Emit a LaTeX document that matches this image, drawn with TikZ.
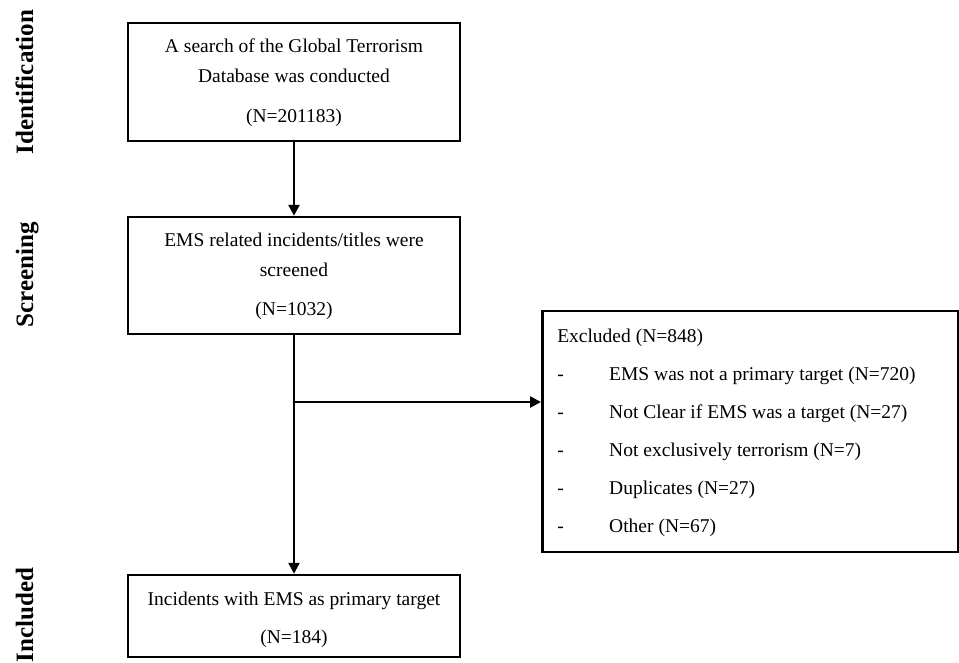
\documentclass[tikz,border=0pt]{standalone}
\usepackage{fontspec}
\setmainfont{Liberation Serif}
\usetikzlibrary{arrows.meta}
\begin{document}
\begin{tikzpicture}[x=1pt,y=-1pt,
  box/.style={draw,line width=2.5pt,align=center,inner sep=0pt,
    minimum width=332pt,font=\fontsize{19.5}{30}\selectfont},
  exbox/.style={draw,line width=2.5pt,align=flush left,inner xsep=15pt,inner ysep=0pt,
    text width=386pt,minimum height=241pt,font=\fontsize{19.5}{38}\selectfont},
  side/.style={rotate=90,anchor=base,font=\fontsize{25}{30}\selectfont\bfseries},
  arr/.style={line width=2.5pt,-{Triangle[length=11pt,width=11pt]}}]
\useasboundingbox (0,0) rectangle (959,662);
\node[side] (lid) at (33,82) {Identification};
\node[side] (lsc) at (33,275) {Screening};
\node[side] (lin) at (33,615) {Included};
\node[box,minimum height=118pt] (b1) at (294,82)
  {\rule{0pt}{15.5pt}A search of the Global Terrorism\\ Database was conducted\\[10pt] (N=201183)};
\node[box,minimum height=117pt] (b2) at (294,275.5)
  {\rule{0pt}{15.5pt}EMS related incidents/titles were\\ screened\\[9pt] (N=1032)};
\node[box,minimum height=82pt] (b3) at (294,616)
  {\rule{0pt}{20.5pt}Incidents with EMS as primary target\\[8pt] (N=184)};
\newcommand{\dsh}{\makebox[52pt][l]{-}}
\node[exbox,anchor=west] (ex) at (541,431.5)
  {\rule{0pt}{15.5pt}Excluded (N=848)\\
   \dsh EMS was not a primary target (N=720)\\
   \dsh Not Clear if EMS was a target (N=27)\\
   \dsh Not exclusively terrorism (N=7)\\
   \dsh Duplicates (N=27)\\
   \dsh Other (N=67)};
\coordinate (br) at (294,402);
\draw[arr] (b1.south) -- (b2.north);
\draw[arr] (b2.south) -- (b3.north);
\draw[arr] (br) -- (br -| ex.west);
\end{tikzpicture}
\end{document}
